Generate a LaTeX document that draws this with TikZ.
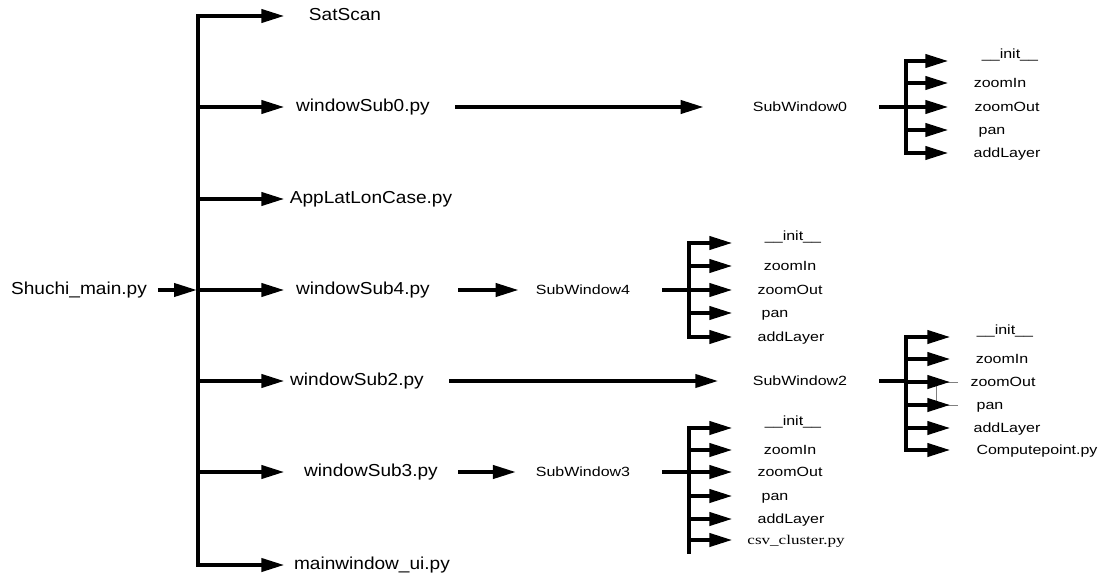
\documentclass[tikz,border=0pt]{standalone}
\usepackage{fontspec}
\setmainfont{Liberation Sans}
\newfontfamily\modfont[FakeStretch=1.1]{Liberation Sans}
\newfontfamily\methfont[FakeStretch=1.2]{Liberation Sans}
\newfontfamily\pyfont[FakeStretch=1.28]{Liberation Serif}
\usetikzlibrary{arrows.meta, positioning}

\begin{document}
\begin{tikzpicture}[
  x=0.75pt, y=-0.75pt,
  mod/.style   = {inner sep=0pt, text height=0.8em, text depth=0.1em,
                  font=\fontsize{13}{15}\modfont},
  meth/.style  = {inner sep=0pt, text height=0.8em, text depth=0.1em,
                  font=\fontsize{10}{12}\methfont},
  initlbl/.style={meth, text depth=11.5pt},
  pylbl/.style = {meth, font=\fontsize{10}{12}\pyfont},
  arr/.style   = {-{Triangle[length=17pt,width=10pt]}, line width=2.3pt},
  trunk/.style = {line width=3pt, line cap=rect},
  feed/.style  = {line width=2.3pt, shorten <=24pt}
]
\useasboundingbox (0,0) rectangle (1102,574);

% ===================== MAIN: Shuchi_main.py =====================
\node[mod] (main) at (79,290) {Shuchi\_main.py};
\coordinate (trk)  at (198,290);
\coordinate (tipA) at (284,0);

\node[mod] (sat)    at (345,16)  {SatScan};
\node[mod] (ws0)    at (363,107) {windowSub0.py};
\node[mod] (app)    at (371,199) {AppLatLonCase.py};
\node[mod] (ws4)    at (363,290) {windowSub4.py};
\node[mod] (ws2)    at (357,381) {windowSub2.py};
\node[mod] (ws3)    at (371,472) {windowSub3.py};
\node[mod] (mainui) at (372,565) {mainwindow\_ui.py};

\draw[trunk] (trk |- sat) -- (trk |- mainui);
\draw[arr, shorten <=8pt, shorten >=1pt] (main) -- (trk);

% arrows: trunk -> modules
\draw[arr] (trk |- sat)    -- (tipA |- sat);
\draw[arr] (trk |- ws0)    -- (tipA |- ws0);
\draw[arr] (trk |- app)    -- (tipA |- app);
\draw[arr] (trk |- ws4)    -- (tipA |- ws4);
\draw[arr] (trk |- ws2)    -- (tipA |- ws2);
\draw[arr] (trk |- ws3)    -- (tipA |- ws3);
\draw[arr] (trk |- mainui) -- (tipA |- mainui);

% ===================== SubWindow0 =====================
\node[meth] (sw0) at (800,107) {SubWindow0};
\draw[arr, shorten <=19pt, shorten >=37pt] (ws0) -- (sw0);

\coordinate (t0)   at (906,107);
\coordinate (tipB) at (948,0);
\node[initlbl] (i0) at (1010,61)  {\_\_init\_\_};
\node[meth]    (z0) at (1000,83)  {zoomIn};
\node[meth]    (o0) at (1007,107) {zoomOut};
\node[meth]    (p0) at (992,130)  {pan};
\node[meth]    (a0) at (1007,153) {addLayer};

\draw[feed] (sw0) -- (t0);
\draw[trunk] (t0 |- i0) -- (t0 |- a0);
\draw[arr] (t0 |- i0) -- (tipB |- i0);
\draw[arr] (t0 |- z0) -- (tipB |- z0);
\draw[arr] (t0 |- o0) -- (tipB |- o0);
\draw[arr] (t0 |- p0) -- (tipB |- p0);
\draw[arr] (t0 |- a0) -- (tipB |- a0);

% ===================== SubWindow4 =====================
\node[meth] (sw4) at (583,290) {SubWindow4};
\draw[arr, shorten <=21pt, shorten >=13pt] (ws4) -- (sw4);

\coordinate (t4)   at (689,290);
\coordinate (tipC) at (732,0);
\node[initlbl] (i4) at (793,243) {\_\_init\_\_};
\node[meth]    (z4) at (790,266) {zoomIn};
\node[meth]    (o4) at (790,290) {zoomOut};
\node[meth]    (p4) at (775,313) {pan};
\node[meth]    (a4) at (791,337) {addLayer};

\draw[feed] (sw4) -- (t4);
\draw[trunk] (t4 |- i4) -- (t4 |- a4);
\draw[arr] (t4 |- i4) -- (tipC |- i4);
\draw[arr] (t4 |- z4) -- (tipC |- z4);
\draw[arr] (t4 |- o4) -- (tipC |- o4);
\draw[arr] (t4 |- p4) -- (tipC |- p4);
\draw[arr] (t4 |- a4) -- (tipC |- a4);

% ===================== SubWindow2 =====================
\node[meth] (sw2) at (800,381) {SubWindow2};
\draw[arr, shorten <=19pt, shorten >=26pt] (ws2) -- (sw2);

\coordinate (t2)   at (906,381);
\coordinate (tipD) at (950,0);
\node[initlbl] (i2) at (1005,337) {\_\_init\_\_};
\node[meth]    (z2) at (1002,359) {zoomIn};
\node[meth]    (o2) at (1003,382) {zoomOut};
\node[meth]    (p2) at (990,405)  {pan};
\node[meth]    (a2) at (1007,428) {addLayer};
\node[meth]    (c2) at (1037,450) {Computepoint.py};

% thin bracket behind zoomOut / pan
\draw[gray, line width=0.5pt] (958,382) -- (936,382) -- (936,405) -- (958,405);

\draw[feed] (sw2) -- (t2);
\draw[trunk] (t2 |- i2) -- (t2 |- c2);
\draw[arr] (t2 |- i2) -- (tipD |- i2);
\draw[arr] (t2 |- z2) -- (tipD |- z2);
\draw[arr] (t2 |- o2) -- (tipD |- o2);
\draw[arr] (t2 |- p2) -- (tipD |- p2);
\draw[arr] (t2 |- a2) -- (tipD |- a2);
\draw[arr] (t2 |- c2) -- (tipD |- c2);

% ===================== SubWindow3 =====================
\node[meth] (sw3) at (583,472) {SubWindow3};
\draw[arr, shorten <=15pt, shorten >=15pt] (ws3) -- (sw3);

\coordinate (t3) at (689,472);
\node[initlbl] (i3) at (793,428) {\_\_init\_\_};
\node[meth]    (z3) at (790,450) {zoomIn};
\node[meth]    (o3) at (790,472) {zoomOut};
\node[meth]    (p3) at (775,496) {pan};
\node[meth]    (a3) at (791,519) {addLayer};
\node[pylbl]   (c3) at (796,540) {csv\_cluster.py};

\draw[feed] (sw3) -- (t3);
\draw[trunk] (t3 |- i3) -- (t3 |- c3) -- ++(0,12);
\draw[arr] (t3 |- i3) -- (tipC |- i3);
\draw[arr] (t3 |- z3) -- (tipC |- z3);
\draw[arr] (t3 |- o3) -- (tipC |- o3);
\draw[arr] (t3 |- p3) -- (tipC |- p3);
\draw[arr] (t3 |- a3) -- (tipC |- a3);
\draw[arr] (t3 |- c3) -- (tipC |- c3);

\end{tikzpicture}
\end{document}
